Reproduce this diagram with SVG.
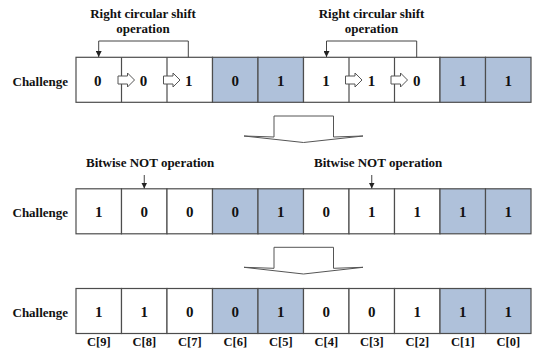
<svg xmlns="http://www.w3.org/2000/svg" width="536" height="351" viewBox="0 0 536 351" font-family="'Liberation Serif', 'Times New Roman', serif">
  <style>
    text { font-family: 'Liberation Serif', 'Times New Roman', serif; font-weight: bold; fill: #111; }
    .lbl { font-size: 13px; }
    .bit { font-size: 15px; text-anchor: middle; }
    .idx { font-size: 12.5px; text-anchor: middle; }
    .cell { fill: #ffffff; stroke: #4d4d4d; stroke-width: 1.2; }
    .shade { fill: #afc1da; stroke: #4d4d4d; stroke-width: 1.2; }
    .sep { stroke: #4d4d4d; stroke-width: 1.2; fill: none; }
    .line { stroke: #444; stroke-width: 1; fill: none; }
    .block { fill: #ffffff; stroke: #555; stroke-width: 1; }
  </style>
  <defs>
    <marker id="ah" viewBox="0 0 6 6" refX="6" refY="3" markerWidth="6" markerHeight="6" orient="auto" markerUnits="userSpaceOnUse">
      <path d="M0,0 L6,3 L0,6 Z" fill="#222"/>
    </marker>
  </defs>

  <!-- Row 1: challenge with circular shifts -->
  <g id="row1">
    <text class="lbl" x="12.5" y="85.5">Challenge</text>
    <rect class="cell" x="76" y="57.3" width="136.5" height="45"/>
    <rect class="shade" x="212.5" y="57.3" width="45.5" height="45"/>
    <rect class="shade" x="258" y="57.3" width="45.5" height="45"/>
    <rect class="cell" x="303.5" y="57.3" width="136.5" height="45"/>
    <rect class="shade" x="440" y="57.3" width="45.5" height="45"/>
    <rect class="shade" x="485.5" y="57.3" width="45.5" height="45"/>
    <!-- split separators with shift arrows -->
    <path class="sep" d="M121.5,57.3 V76 M121.5,84 V102.3 M167,57.3 V76 M167,84 V102.3 M349,57.3 V76 M349,84 V102.3 M394.5,57.3 V76 M394.5,84 V102.3"/>
    <polygon class="block" points="118,76 127.5,76 127.5,73 134.5,80 127.5,87 127.5,84 118,84"/>
    <polygon class="block" points="163.5,76 173,76 173,73 180,80 173,87 173,84 163.5,84"/>
    <polygon class="block" points="345.5,76 355,76 355,73 362,80 355,87 355,84 345.5,84"/>
    <polygon class="block" points="391,76 400.5,76 400.5,73 407.5,80 400.5,87 400.5,84 391,84"/>
    <text class="bit" x="97.8" y="86">0</text>
    <text class="bit" x="143.5" y="86">0</text>
    <text class="bit" x="188.8" y="86">1</text>
    <text class="bit" x="235.25" y="86">0</text>
    <text class="bit" x="280.75" y="86">1</text>
    <text class="bit" x="326" y="86">1</text>
    <text class="bit" x="371.5" y="86">1</text>
    <text class="bit" x="416.8" y="86">0</text>
    <text class="bit" x="462.75" y="86">1</text>
    <text class="bit" x="508.25" y="86">1</text>
  </g>

  <!-- Row 2: after bitwise NOT -->
  <g id="row2">
    <text class="lbl" x="12.5" y="216.8">Challenge</text>
    <rect class="cell" x="76" y="188.8" width="45.5" height="45"/>
    <rect class="cell" x="121.5" y="188.8" width="45.5" height="45"/>
    <rect class="cell" x="167" y="188.8" width="45.5" height="45"/>
    <rect class="shade" x="212.5" y="188.8" width="45.5" height="45"/>
    <rect class="shade" x="258" y="188.8" width="45.5" height="45"/>
    <rect class="cell" x="303.5" y="188.8" width="45.5" height="45"/>
    <rect class="cell" x="349" y="188.8" width="45.5" height="45"/>
    <rect class="cell" x="394.5" y="188.8" width="45.5" height="45"/>
    <rect class="shade" x="440" y="188.8" width="45.5" height="45"/>
    <rect class="shade" x="485.5" y="188.8" width="45.5" height="45"/>
    <text class="bit" x="98.75" y="217.3">1</text>
    <text class="bit" x="144.25" y="217.3">0</text>
    <text class="bit" x="189.75" y="217.3">0</text>
    <text class="bit" x="235.25" y="217.3">0</text>
    <text class="bit" x="280.75" y="217.3">1</text>
    <text class="bit" x="326.25" y="217.3">0</text>
    <text class="bit" x="371.75" y="217.3">1</text>
    <text class="bit" x="417.25" y="217.3">1</text>
    <text class="bit" x="462.75" y="217.3">1</text>
    <text class="bit" x="508.25" y="217.3">1</text>
  </g>

  <!-- Row 3: final challenge -->
  <g id="row3">
    <text class="lbl" x="12.5" y="316.5">Challenge</text>
    <rect class="cell" x="76" y="288.5" width="45.5" height="45"/>
    <rect class="cell" x="121.5" y="288.5" width="45.5" height="45"/>
    <rect class="cell" x="167" y="288.5" width="45.5" height="45"/>
    <rect class="shade" x="212.5" y="288.5" width="45.5" height="45"/>
    <rect class="shade" x="258" y="288.5" width="45.5" height="45"/>
    <rect class="cell" x="303.5" y="288.5" width="45.5" height="45"/>
    <rect class="cell" x="349" y="288.5" width="45.5" height="45"/>
    <rect class="cell" x="394.5" y="288.5" width="45.5" height="45"/>
    <rect class="shade" x="440" y="288.5" width="45.5" height="45"/>
    <rect class="shade" x="485.5" y="288.5" width="45.5" height="45"/>
    <text class="bit" x="98.75" y="317">1</text>
    <text class="bit" x="144.25" y="317">1</text>
    <text class="bit" x="189.75" y="317">0</text>
    <text class="bit" x="235.25" y="317">0</text>
    <text class="bit" x="280.75" y="317">1</text>
    <text class="bit" x="326.25" y="317">0</text>
    <text class="bit" x="371.75" y="317">0</text>
    <text class="bit" x="417.25" y="317">1</text>
    <text class="bit" x="462.75" y="317">1</text>
    <text class="bit" x="508.25" y="317">1</text>
  </g>

  <!-- Bit index labels -->
  <g id="indices">
    <text class="idx" x="98.75" y="346">C[9]</text>
    <text class="idx" x="144.25" y="346">C[8]</text>
    <text class="idx" x="189.75" y="346">C[7]</text>
    <text class="idx" x="235.25" y="346">C[6]</text>
    <text class="idx" x="280.75" y="346">C[5]</text>
    <text class="idx" x="326.25" y="346">C[4]</text>
    <text class="idx" x="371.75" y="346">C[3]</text>
    <text class="idx" x="417.25" y="346">C[2]</text>
    <text class="idx" x="462.75" y="346">C[1]</text>
    <text class="idx" x="508.25" y="346">C[0]</text>
  </g>

  <!-- Operation labels -->
  <g id="shift-label-left">
    <text class="lbl" x="143" y="18" text-anchor="middle">Right circular shift</text>
    <text class="lbl" x="143" y="33" text-anchor="middle">operation</text>
  </g>
  <g id="shift-label-right">
    <text class="lbl" x="371.5" y="18" text-anchor="middle">Right circular shift</text>
    <text class="lbl" x="371.5" y="33" text-anchor="middle">operation</text>
  </g>
  <g id="not-label-left">
    <text class="lbl" x="86" y="167">Bitwise NOT operation</text>
  </g>
  <g id="not-label-right">
    <text class="lbl" x="314" y="167">Bitwise NOT operation</text>
  </g>

  <!-- Connectors -->
  <g id="connectors">
    <path class="line" d="M188.3,57.3 V41 H98.7 V57" marker-end="url(#ah)"/>
    <path class="line" d="M416.7,57.3 V41 H326.5 V57" marker-end="url(#ah)"/>
    <path class="line" d="M144.25,175 V188.5" marker-end="url(#ah)"/>
    <path class="line" d="M371.75,175 V188.5" marker-end="url(#ah)"/>
    <polygon class="block" points="274,116 333.5,116 333.5,137 363,136 303.5,142.5 244,136 274,137"/>
    <polygon class="block" points="274,247.3 333.5,247.3 333.5,268.3 363,267.3 303.5,274 244,267.3 274,268.3"/>
  </g>
</svg>
